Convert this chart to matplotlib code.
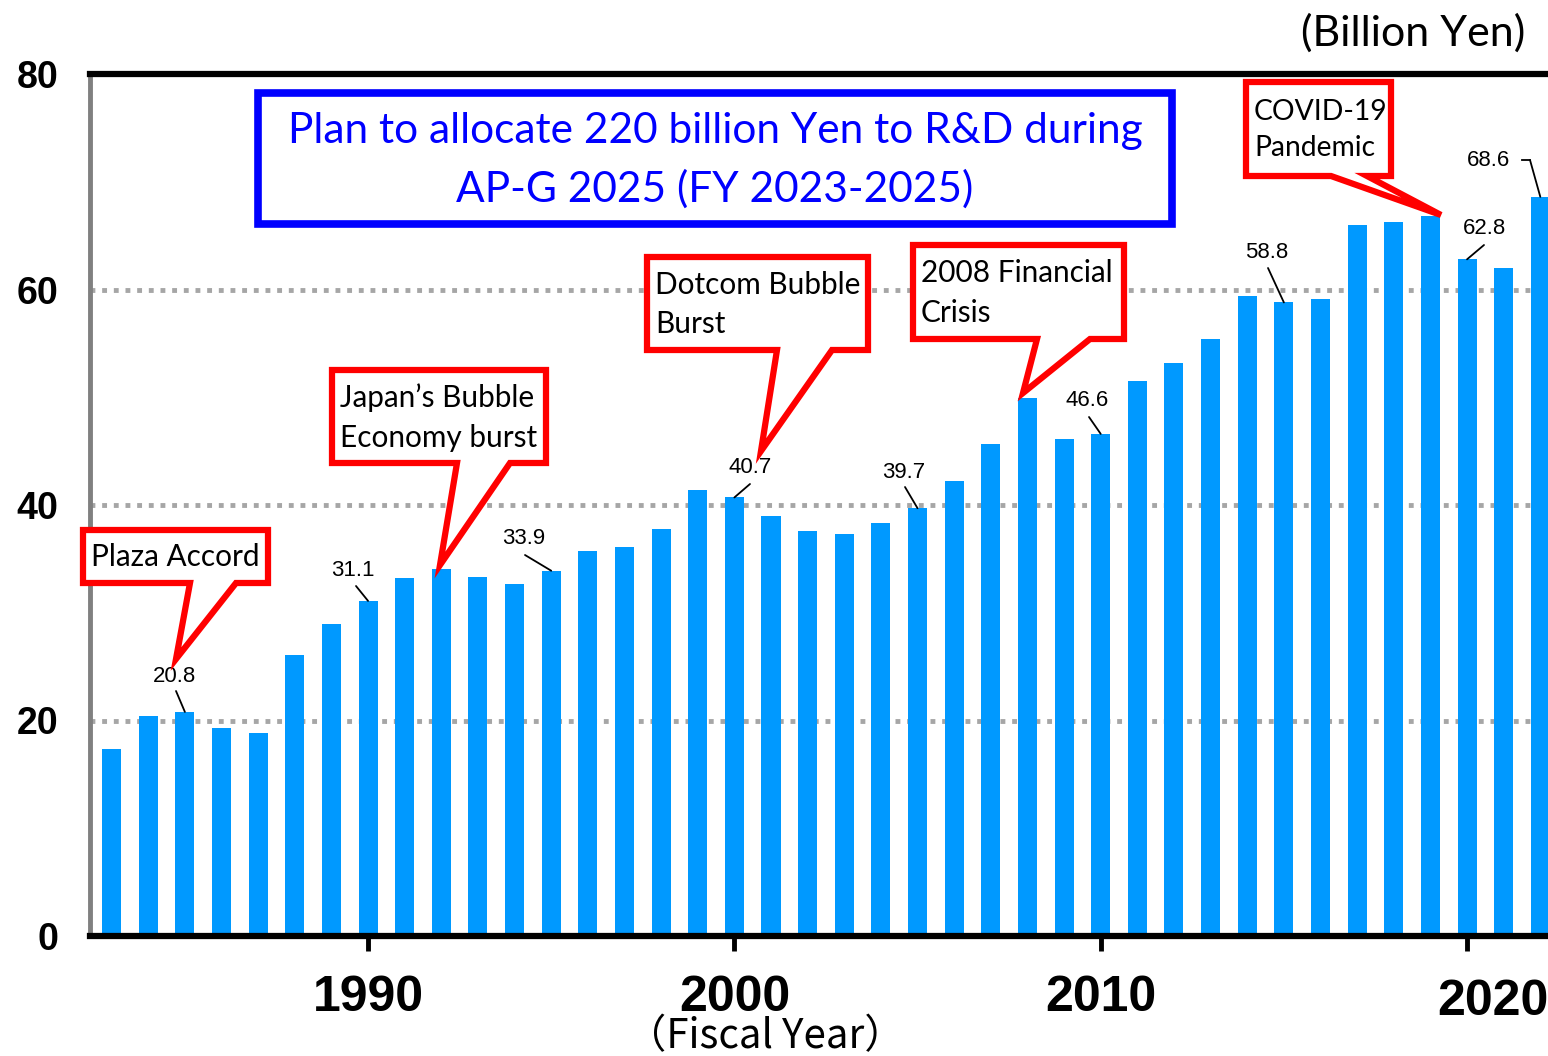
import matplotlib
matplotlib.use("Agg")
import matplotlib.pyplot as plt
from matplotlib.patches import Polygon, Rectangle
import matplotlib.transforms as mtransforms

# ---------------- data ----------------
years = list(range(1983, 2023))
values = [17.4, 20.4, 20.8, 19.3, 18.8, 26.1, 29.0, 31.1, 33.2, 34.1,
          33.3, 32.7, 33.9, 35.7, 36.1, 37.8, 41.4, 40.7, 39.0, 37.6,
          37.3, 38.3, 39.7, 42.2, 45.7, 49.9, 46.1, 46.6, 51.5, 53.2,
          55.4, 59.4, 58.8, 59.1, 66.0, 66.3, 66.8, 62.8, 62.0, 68.6]
labeled_years = [1985, 1990, 1995, 2000, 2005, 2010, 2015, 2020, 2022]
xtick_years = [1990, 2000, 2010, 2020]
ytick_vals = [0, 20, 40, 60, 80]
events = ["Plaza Accord", "Japan\u2019s Bubble\nEconomy burst",
          "Dotcom Bubble\nBurst", "2008 Financial\nCrisis", "COVID-19\nPandemic"]
event_years = [1985, 1992, 2000, 2008, 2019]
plan_text = "Plan to allocate 220 billion Yen to R&D during\nAP-G 2025 (FY 2023-2025)"

W, H = 1548, 1056
fig = plt.figure(figsize=(W / 100, H / 100), dpi=100)
ax = fig.add_axes([90 / W, 1 - 936 / H, (W - 90) / W, 862 / H])

BAR = "#0099FF"
ax.bar(years, values, width=0.52, color=BAR, zorder=2)
ax.set_xlim(1982.41, 2022.21)
ax.set_ylim(0, 80)

for g in [20, 40, 60]:
    ax.axhline(g, color="#A6A6A6", lw=3.5, ls=(0, (1, 1.4)), zorder=1)

ax.spines["right"].set_visible(False)
ax.spines["top"].set_color("black")
ax.spines["top"].set_linewidth(4.5)
ax.spines["bottom"].set_color("black")
ax.spines["bottom"].set_linewidth(4.5)
ax.spines["bottom"].set_zorder(3)
ax.spines["left"].set_color("#808080")
ax.spines["left"].set_linewidth(3.5)

ax.set_xticks(xtick_years)
ax.set_xticklabels([str(y) for y in xtick_years])
ax.tick_params(axis="x", direction="out", length=11, width=3.5, color="black",
               pad=17, labelsize=36)
ax.set_yticks(ytick_vals)
ax.set_yticklabels([str(v) for v in ytick_vals])
ax.tick_params(axis="y", length=0, pad=23, labelsize=27)
for lab in ax.get_xticklabels() + ax.get_yticklabels():
    lab.set_fontfamily("Liberation Sans")
    lab.set_fontweight("bold")
# the last year label sits slightly to the right in the reference
last = ax.get_xticklabels()[-1]
last.set_transform(last.get_transform() +
                   mtransforms.ScaledTranslation(26 / 100, -4 / 100, fig.dpi_scale_trans))

CAL = ["Lato", "DejaVu Sans"]
fig.text(1525 / W, 1 - 33 / H, "(Billion Yen)", ha="right", va="center",
         fontsize=31, family=CAL)
fig.text(765 / W, 1 - 1037 / H, "\uff08Fiscal Year\uff09", ha="center", va="center",
         fontsize=29, family=["Noto Sans CJK JP", "DejaVu Sans"])

def f(px, py):
    return (px / W, 1 - py / H)

# value labels with leader lines (label pixel pos, line start pixel pos)
lab_pos = {1985: (174, 676), 1990: (353, 571), 1995: (524, 538), 2000: (750, 468),
           2005: (904, 472), 2010: (1087, 401), 2015: (1267, 253),
           2020: (1484, 229), 2022: (1489, 161)}
line_start = {1985: (176, 691), 1990: (356, 586), 1995: (525, 555), 2000: (750, 484),
              2005: (905, 487), 2010: (1089, 417), 2015: (1268, 268),
              2020: (1484, 245), 2022: (1522, 160)}

for y in labeled_years:
    v = values[years.index(y)]
    tx, ty = lab_pos[y]
    fig.text(*f(tx, ty), f"{v:.1f}", ha="center", va="center", fontsize=16,
             family="Liberation Sans")
    sx, sy = line_start[y]
    if y == 2022:
        ax.annotate("", xy=(y, v), xytext=f(sx + 8, sy), textcoords="figure fraction",
                    arrowprops=dict(arrowstyle="-", lw=1.3, color="black",
                                    shrinkA=0, shrinkB=0))
        fig.add_artist(plt.Line2D([sx / W, (sx + 8) / W], [1 - sy / H, 1 - sy / H],
                                  color="black", lw=1.3))
    else:
        ax.annotate("", xy=(y, v), xytext=f(sx, sy), textcoords="figure fraction",
                    arrowprops=dict(arrowstyle="-", lw=1.3, color="black",
                                    shrinkA=0, shrinkB=0))

# callouts: box (l, t, r, b), tail base x1, x2, tip (pixels)
callouts = [
    ((83, 530, 268, 583), 190, 236, (176, 659)),
    ((332, 370, 546, 463), 457, 510, (440, 565)),
    ((647, 257, 868, 350), 777, 832, (761, 451)),
    ((913, 245, 1124, 339), 1037, 1090, (1023, 393)),
    ((1246, 82, 1391, 176), 1331, 1367, (1441, 215)),
]
for (box, b1, b2, tip), txt in zip(callouts, events):
    l, t, r, b = box
    pts = [(l, t), (r, t), (r, b), (b2, b), tip, (b1, b), (l, b)]
    poly = Polygon([f(*p) for p in pts], closed=True, transform=fig.transFigure,
                   facecolor="white", edgecolor="#FF0000", lw=4.5, joinstyle="miter",
                   zorder=10)
    fig.add_artist(poly)
    fs = 20.3 if txt.startswith("COVID") else 21.4
    fig.text(*f(l + 8, (t + b) / 2 + 1), txt, ha="left", va="center", fontsize=fs,
             family=CAL, linespacing=1.5, zorder=11)

# blue plan box
rect = Rectangle(f(258, 224), (1172 - 258) / W, (224 - 93) / H, transform=fig.transFigure,
                 facecolor="white", edgecolor="#0000FF", lw=5.5, zorder=10)
fig.add_artist(rect)
fig.text(*f(715, 160), plan_text, ha="center", va="center", fontsize=30.5,
         color="#0000FF", family=CAL, linespacing=1.6, zorder=11)

fig.savefig("out.png", dpi=100)
